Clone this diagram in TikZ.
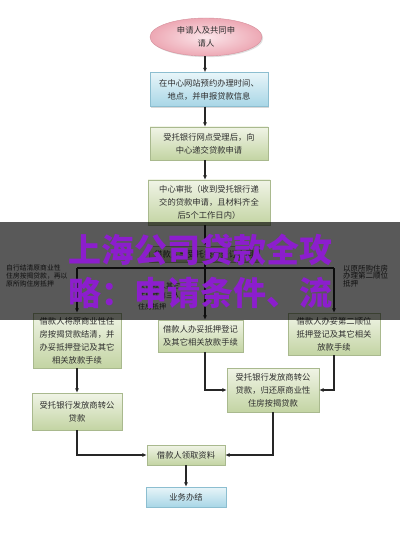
\documentclass[tikz,border=0pt]{standalone}
\usepackage{fontspec}
\newfontfamily\cjk{Noto Sans CJK SC}
\usetikzlibrary{shapes.geometric,shadows,arrows.meta}
\definecolor{gtop}{HTML}{F0F4E6}
\definecolor{gbot}{HTML}{C3D4A3}
\definecolor{gline}{HTML}{A9B98E}
\definecolor{btop}{HTML}{E8F5F9}
\definecolor{bbot}{HTML}{A8D6E6}
\definecolor{bline}{HTML}{8CBED0}
\definecolor{pin}{HTML}{FBE6EA}
\definecolor{pout}{HTML}{EDA8B4}
\definecolor{pline}{HTML}{D58F9B}
\definecolor{txt}{HTML}{2E2E2E}
\definecolor{wm}{RGB}{140,30,205}
\begin{document}
\begin{tikzpicture}[x=1pt,y=-1pt,
 boxbase/.style={rectangle,inner sep=0pt,align=center,text=txt,font=\cjk\fontsize{8.3}{13}\selectfont,drop shadow={shadow xshift=1.2pt,shadow yshift=-1.2pt,opacity=0.3}},
 gbox/.style={boxbase,draw=gline,top color=gtop,bottom color=gbot},
 bbox/.style={boxbase,draw=bline,top color=btop,bottom color=bbot},
 arr/.style={draw=black!85,line width=1.1pt,-{Latex[length=4.5pt,width=4pt]}},
 ln/.style={draw=black!85,line width=1.1pt},
 lab/.style={inner sep=0pt,align=left,text=txt,font=\cjk\fontsize{6.8}{7.8}\selectfont},
 wmtext/.style={inner sep=0pt,text=wm,font=\cjk\bfseries\fontsize{33}{33}\selectfont}]
\fill[white] (0,0) rectangle (400,545);
\useasboundingbox (0,0) rectangle (400,545);
\coordinate (trunk) at (205,0);

\node[ellipse,draw=pline,inner color=pin,outer color=pout,minimum width=112pt,minimum height=38pt,inner sep=0pt,align=center,text=txt,font=\cjk\fontsize{8.3}{12.5}\selectfont,drop shadow={shadow xshift=1.2pt,shadow yshift=-1.2pt,opacity=0.25}] (n1) at (206,37) {申请人及共同申\\请人};
\node[bbox,minimum width=118pt,minimum height=34pt] (n2) at (209,89.5) {在中心网站预约办理时间、\\地点，并申报贷款信息};
\node[gbox,minimum width=118pt,minimum height=33pt] (n3) at (209,143.5) {受托银行网点受理后，向\\中心递交贷款申请};
\node[gbox,minimum width=122pt,minimum height=45pt] (n4) at (209,202.5) {中心审批（收到受托银行递\\交的贷款申请，且材料齐全\\后5个工作日内）};
\node[gbox,minimum width=110pt,minimum height=16pt] (n5) at (204,254) {借款人与受托银行签订合同};

\node[gbox,minimum width=88pt,minimum height=55pt] (n6) at (77,340.5) {借款人将原商业性住\\房按揭贷款结清，并\\办妥抵押登记及其它\\相关放款手续};
\node[gbox,minimum width=85pt,minimum height=32pt] (n7) at (200.5,336) {借款人办妥抵押登记\\及其它相关放款手续};
\node[gbox,minimum width=92pt,minimum height=42pt] (n8) at (334,334) {借款人办妥第二顺位\\抵押登记及其它相关\\放款手续};
\node[gbox,minimum width=90pt,minimum height=37pt] (n9) at (77,411.5) {受托银行发放商转公\\贷款};
\node[gbox,minimum width=92pt,minimum height=44pt] (n10) at (273,390) {受托银行发放商转公\\贷款，归还原商业性\\住房按揭贷款};
\node[gbox,minimum width=78pt,minimum height=20pt] (n11) at (186,455) {借款人领取资料};
\node[bbox,minimum width=80pt,minimum height=20pt] (n12) at (186,497) {业务办结};

\node[lab,anchor=west] (l1) at (6,276) {自行结清原商业性\\住房按揭贷款，再以\\原所购住房抵押};
\node[lab,anchor=west,font=\cjk\fontsize{7.5}{7.8}\selectfont] (l2) at (343,276) {以原所购住房\\办理第二顺位\\抵押};
\node[lab,anchor=west,font=\cjk\fontsize{7}{10.5}\selectfont] (l3) at (138,296) {以借款人其它\\住房或第三人\\住房抵押};

\coordinate (bl) at (77,268);
\coordinate (bc) at (205,268);
\coordinate (br) at (334,268);

\draw[arr] (n1.south -| trunk) -- (n2.north -| trunk);
\draw[arr] (n2.south -| trunk) -- (n3.north -| trunk);
\draw[arr] (n3.south -| trunk) -- (n4.north -| trunk);
\draw[arr] (n4.south -| trunk) -- (n5.north -| trunk);
\draw[ln] (n5.south -| trunk) -- (bc);
\draw[ln] (bl) -- (br);
\draw[arr] (bl) -- (n6.north);
\draw[arr] (bc) -- (n7.north -| trunk);
\draw[arr] (br) -- (n8.north);
\draw[arr] (n6.south) -- (n9.north);
\draw[arr] (n7.south -| trunk) |- (n10.west);
\draw[arr] (n8.south) |- (n10.east);
\draw[arr] (n9.south) |- (n11.west);
\draw[arr] (n10.south) |- (n11.east);
\draw[arr] (n11.south) -- (n12.north);

\fill[black,opacity=0.65] (0,222) rectangle (400,320);
\node[wmtext] (w1) at (200,250) {上海公司贷款全攻};
\node[wmtext] (w2) at (200,293) {略：申请条件、流};
\end{tikzpicture}
\end{document}
